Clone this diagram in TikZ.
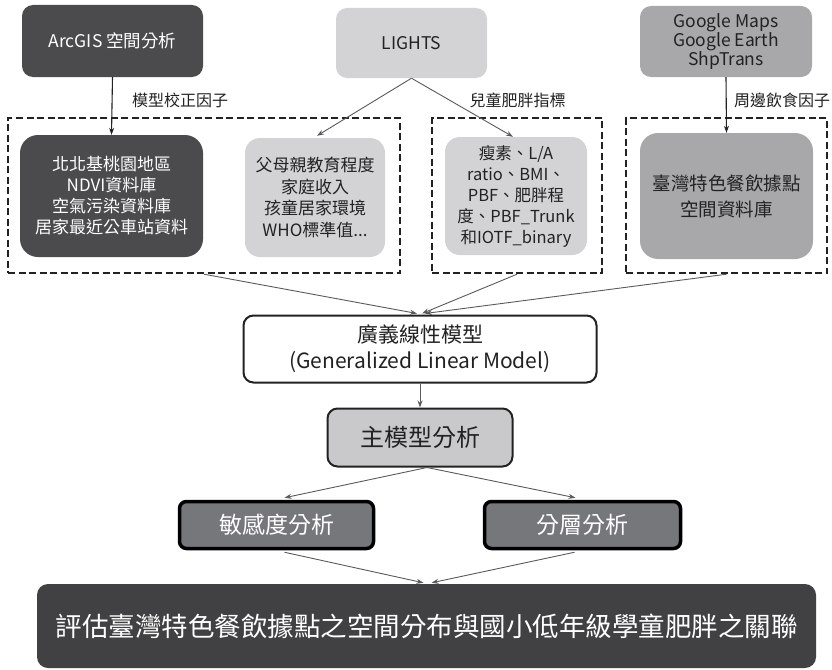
\documentclass[tikz,border=0pt]{standalone}
\usepackage{fontspec}
\setmainfont{Noto Sans CJK TC}
\usetikzlibrary{arrows.meta,calc}
\definecolor{darkbox}{HTML}{4B4B4D}
\definecolor{finalbox}{HTML}{414143}
\definecolor{lightbox}{HTML}{D3D3D5}
\definecolor{midbox}{HTML}{A8A8AA}
\definecolor{mainbox}{HTML}{C9C9CB}
\definecolor{subbox}{HTML}{76777B}
\definecolor{txt}{HTML}{222222}
\definecolor{conn}{HTML}{5A5A5A}
\tikzset{
  box/.style={rectangle, align=center, inner sep=0pt},
  darknode/.style={box, fill=darkbox, text=white},
  lightnode/.style={box, fill=lightbox, text=txt},
  midnode/.style={box, fill=midbox, text=txt},
  dashbox/.style={draw=txt, line width=2.4pt, dash pattern=on 7pt off 3.5pt},
  lbl/.style={text=txt, font=\fontsize{16}{18}\selectfont, inner sep=0pt},
  conline/.style={draw=conn, line width=0.9pt, -{Stealth[length=7pt,width=5pt]}},
  darkline/.style={draw=txt, line width=1.1pt, -{Stealth[length=7pt,width=5pt]}},
}
\begin{document}
\begin{tikzpicture}[x=1pt,y=-1pt]
\useasboundingbox (0,0) rectangle (832,669);
% dashed groups
\node[dashbox, minimum width=392pt, minimum height=155pt] (g1) at (204,195.5) {};
\node[dashbox, minimum width=170pt, minimum height=155pt] (g2) at (517,195.5) {};
\node[dashbox, minimum width=201pt, minimum height=155pt] (g3) at (726.5,195.5) {};
% top sources
\node[darknode, rounded corners=11pt, minimum width=181pt, minimum height=72pt, font=\fontsize{17.5}{20}\selectfont] (arc) at (112.5,41) {ArcGIS 空間分析};
\node[lightnode, rounded corners=11pt, minimum width=151pt, minimum height=70pt, font=\fontsize{17.5}{20}\selectfont] (lights) at (411.5,43) {LIGHTS};
\node[midnode, rounded corners=11pt, minimum width=172pt, minimum height=71pt, font=\fontsize{17.5}{19}\selectfont] (google) at (726,41.5) {Google Maps\\Google Earth\\ShpTrans};
% labels
\node[lbl] (l1) at (180,100) {模型校正因子};
\node[lbl] (l2) at (517.5,100) {兒童肥胖指標};
\node[lbl] (l3) at (782,100) {周邊飲食因子};
% inner boxes
\node[darknode, rounded corners=18pt, minimum width=183pt, minimum height=122pt, font=\fontsize{17}{21}\selectfont] (ndvi) at (111.5,196) {北北基桃園地區\\NDVI資料庫\\空氣污染資料庫\\居家最近公車站資料};
\node[lightnode, rounded corners=15pt, minimum width=140pt, minimum height=119pt, font=\fontsize{17}{21.5}\selectfont] (parents) at (315,197.5) {父母親教育程度\\家庭收入\\孩童居家環境\\WHO標準值...};
\node[lightnode, rounded corners=15pt, minimum width=142pt, minimum height=118pt, font=\fontsize{16.5}{21}\selectfont] (obesity) at (516,196) {瘦素、L/A\\ratio、BMI、\\PBF、肥胖程\\度、PBF\_Trunk\\和IOTF\_binary};
\node[midnode, rounded corners=18pt, minimum width=173pt, minimum height=126pt, font=\fontsize{18.5}{26}\selectfont] (rest) at (726.5,196) {臺灣特色餐飲據點\\空間資料庫};
% model boxes
\node[box, draw=txt, line width=2pt, fill=white, text=txt, rounded corners=10pt, minimum width=353pt, minimum height=67pt, font=\fontsize{21}{26}\selectfont] (glm) at (420,349) {廣義線性模型\\(Generalized Linear Model)};
\node[box, draw=txt, line width=2pt, fill=mainbox, text=txt, rounded corners=10pt, minimum width=185pt, minimum height=58pt, font=\fontsize{24}{28}\selectfont] (main) at (420,437.5) {主模型分析};
\node[box, draw=black, line width=3.5pt, fill=subbox, text=white, rounded corners=7pt, minimum width=194pt, minimum height=47pt, font=\fontsize{23}{27}\selectfont] (sens) at (276.5,525) {敏感度分析};
\node[box, draw=black, line width=3.5pt, fill=subbox, text=white, rounded corners=7pt, minimum width=196pt, minimum height=47pt, font=\fontsize{23}{27}\selectfont] (strat) at (582.5,525) {分層分析};
\node[box, fill=finalbox, text=white, rounded corners=11pt, minimum width=779pt, minimum height=84pt, font=\fontsize{26.5}{32}\selectfont] (final) at (426.5,626) {評估臺灣特色餐飲據點之空間分布與國小低年級學童肥胖之關聯};
% connectors
\draw[darkline] (arc.south) -- (ndvi.north);
\draw[conline] (lights.south) -- ($(parents.north)+(2,-2)$);
\draw[conline] (lights.south) -- ($(obesity.north)+(-3,0)$);
\draw[darkline] (google.south) -- (rest.north);
\draw[conline] (g1.south) -- ($(glm.north)+(-3,-1)$);
\draw[conline] (g2.south) -- ($(glm.north)+(2,-1)$);
\draw[conline] (g3.south) -- ($(glm.north)+(5,-1)$);
\draw[conline] (glm.south) -- (main.north);
\draw[conline] ($(main.south)+(7,0)$) -- ($(sens.north)+(8,-2)$);
\draw[conline] ($(main.south)+(7,0)$) -- ($(strat.north)+(-7,-2)$);
\draw[conline] ($(sens.south)+(8,2)$) -- ($(final.north)+(-3,-1)$);
\draw[conline] ($(strat.south)+(-8,2)$) -- ($(final.north)+(5,-1)$);
\end{tikzpicture}
\end{document}
